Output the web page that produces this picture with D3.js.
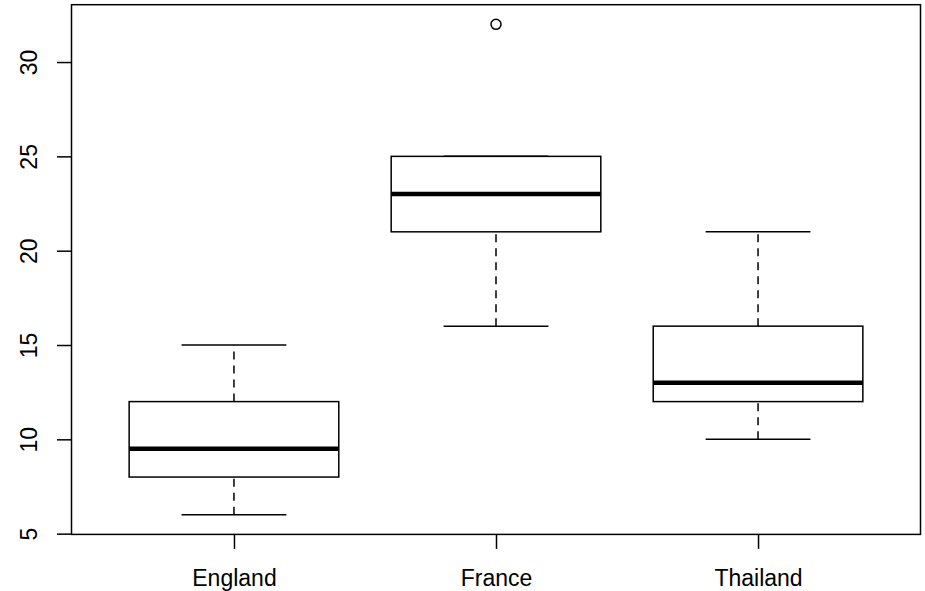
<!DOCTYPE html>
<html>
<head>
<meta charset="utf-8">
<script src="https://cdn.jsdelivr.net/npm/d3@7"></script>
<style>
  body { margin: 0; background: #fff; }
  text { font-family: "Liberation Sans", Arial, sans-serif; fill: #000; }
</style>
</head>
<body>
<div id="chart"></div>
<script>
// Box statistics
var groups = ["England", "France", "Thailand"];
var lowerWhisker = [6, 16, 10];
var q1 = [8, 21, 12];
var medians = [9.5, 23, 13];
var q3 = [12, 25, 16];
var upperWhisker = [15, 25, 21];
var outliers = [[], [32], []];
var yTicks = [5, 10, 15, 20, 25, 30];

var svgWidth = 925;
var svgHeight = 591;

// plot region (R style box)
var plot = { left: 71.5, right: 920.5, top: 4.7, bottom: 534.4 };

var svg = d3.select("#chart")
  .append("svg")
  .attr("width", svgWidth)
  .attr("height", svgHeight);

// R pads the data range by 4% on each side
var allVals = lowerWhisker.concat(upperWhisker, d3.merge(outliers));
var yMin = d3.min(allVals), yMax = d3.max(allVals);
var pad = (yMax - yMin) * 0.04;

var y = d3.scaleLinear()
  .domain([yMin - pad, yMax + pad])
  .range([plot.bottom, plot.top]);

var xPad = (groups.length) * 0.04;
var x = d3.scaleLinear()
  .domain([0.5 - xPad, groups.length + 0.5 + xPad])
  .range([plot.left, plot.right]);

var lw = 1.5;

// y axis
var leftAxis = d3.axisLeft(y)
  .tickValues(yTicks)
  .tickSize(14.5)
  .tickPadding(0)
  .tickFormat(d3.format("d"));

var yAxis = svg.append("g")
  .attr("transform", `translate(${plot.left}, 0)`)
  .call(leftAxis);
yAxis.select(".domain").remove();
yAxis.selectAll("line").attr("stroke", "#000").attr("stroke-width", lw);
// rotated labels, R style (las = 0)
yAxis.selectAll(".tick text")
  .attr("x", 0).attr("y", 0).attr("dy", null)
  .attr("text-anchor", "middle")
  .attr("transform", "translate(-35, 0) rotate(-90)")
  .style("font-size", "23px")
  .style("font-family", "Liberation Sans, Arial, sans-serif");

// x axis
var bottomAxis = d3.axisBottom(x)
  .tickValues(d3.range(1, groups.length + 1))
  .tickSize(14.5)
  .tickPadding(21)
  .tickFormat((d, i) => groups[i]);

var xAxis = svg.append("g")
  .attr("transform", `translate(0, ${plot.bottom})`)
  .call(bottomAxis);
xAxis.select(".domain").remove();
xAxis.selectAll("line").attr("stroke", "#000").attr("stroke-width", lw);
xAxis.selectAll("text")
  .style("font-size", "23px")
  .style("font-family", "Liberation Sans, Arial, sans-serif");

// boxes
var boxHalf = 0.4, stapleHalf = 0.2;
var g = svg.append("g");

groups.forEach(function(name, i) {
  var cx = x(i + 1);
  var bx0 = x(i + 1 - boxHalf), bx1 = x(i + 1 + boxHalf);
  var sx0 = x(i + 1 - stapleHalf), sx1 = x(i + 1 + stapleHalf);

  // dashed whiskers
  g.append("line")
    .attr("x1", cx).attr("x2", cx)
    .attr("y1", y(lowerWhisker[i])).attr("y2", y(q1[i]))
    .attr("stroke", "#000").attr("stroke-width", lw)
    .attr("stroke-dasharray", "8,6");
  g.append("line")
    .attr("x1", cx).attr("x2", cx)
    .attr("y1", y(q3[i])).attr("y2", y(upperWhisker[i]))
    .attr("stroke", "#000").attr("stroke-width", lw)
    .attr("stroke-dasharray", "8,6");

  // staples
  [lowerWhisker[i], upperWhisker[i]].forEach(function(v) {
    g.append("line")
      .attr("x1", sx0).attr("x2", sx1)
      .attr("y1", y(v)).attr("y2", y(v))
      .attr("stroke", "#000").attr("stroke-width", lw);
  });

  // box
  g.append("rect")
    .attr("x", bx0).attr("y", y(q3[i]))
    .attr("width", bx1 - bx0).attr("height", y(q1[i]) - y(q3[i]))
    .attr("fill", "none").attr("stroke", "#000").attr("stroke-width", lw);

  // median
  g.append("line")
    .attr("x1", bx0).attr("x2", bx1)
    .attr("y1", y(medians[i])).attr("y2", y(medians[i]))
    .attr("stroke", "#000").attr("stroke-width", 4.5);

  // outliers
  g.selectAll(null)
    .data(outliers[i])
    .enter()
    .append("circle")
    .attr("cx", cx)
    .attr("cy", d => y(d))
    .attr("r", 5)
    .attr("fill", "none")
    .attr("stroke", "#000")
    .attr("stroke-width", lw);
});

// frame
svg.append("rect")
  .attr("x", plot.left).attr("y", plot.top)
  .attr("width", plot.right - plot.left)
  .attr("height", plot.bottom - plot.top)
  .attr("fill", "none").attr("stroke", "#000").attr("stroke-width", lw);
</script>
</body>
</html>
